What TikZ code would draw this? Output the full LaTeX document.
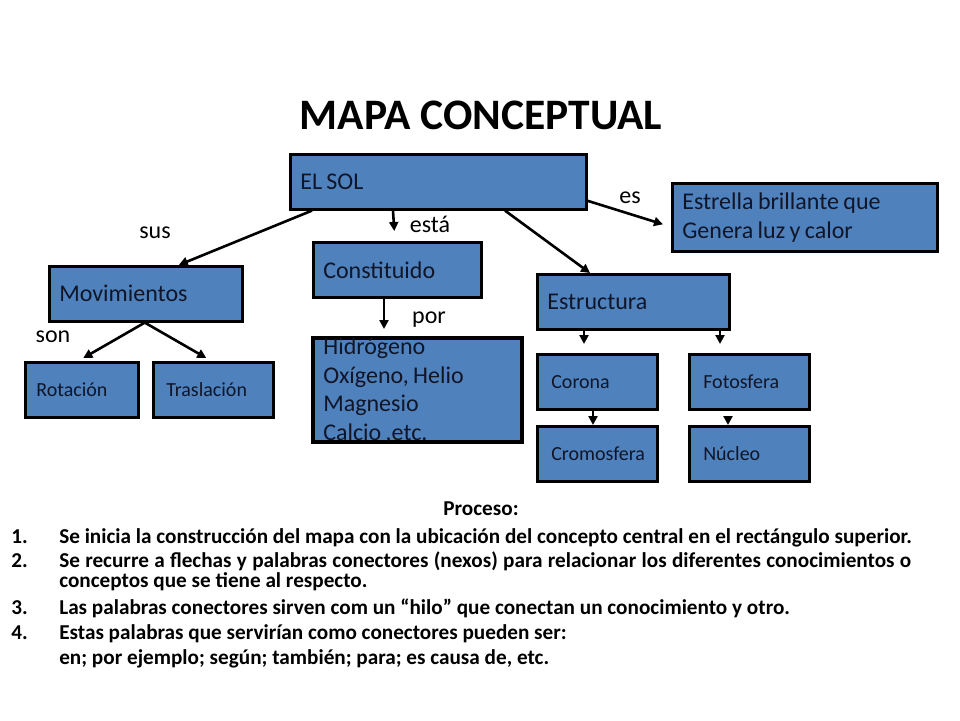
\documentclass[tikz,border=0pt]{standalone}
\usepackage{fontspec}
\setmainfont{Carlito}
\newfontfamily\mapafont{Carlito}[WordSpace=0.8]
\usetikzlibrary{calc}
\usetikzlibrary{arrows.meta}
\definecolor{solBlue}{RGB}{79,129,189}
\definecolor{solInk}{RGB}{16,22,40}
\tikzset{every picture/.style={line width=2.6pt, >={Triangle[length=9pt,width=9pt]}}}
\tikzset{concept/.style={draw=black, line width=2.6pt, fill=solBlue, anchor=north west, align=flush left, inner xsep=10pt, inner ysep=0pt, text=solInk, font=\mapafont\fontsize{24}{29}\selectfont}}
\tikzset{small concept/.style={concept, inner xsep=14pt, font=\mapafont\fontsize{20}{24}\selectfont}}
\tikzset{nexo/.style={font=\mapafont\fontsize{24}{28}\selectfont}}
\tikzset{paso/.style={anchor=base west, inner sep=0pt, font=\bfseries\fontsize{21.2}{22}\selectfont}}

\begin{document}
\begin{tikzpicture}[x=1pt,y=-1pt]
            \useasboundingbox (0,0) rectangle (960,720);
            \node[font=\bfseries\fontsize{43.5}{48}\selectfont] (titulo) at (481,115) {MAPA CONCEPTUAL};

            \node[concept, text width=276pt, minimum height=55pt] (sol) at (289,153) {EL SOL};
            \node[concept, text width=245pt, minimum height=68pt] (estrella) at (671,182) {Estrella brillante que\\Genera luz y calor};
            \node[concept, text width=148pt, minimum height=55pt] (constituido) at (312,241) {Constituido};
            \node[concept, text width=173pt, minimum height=55pt] (mov) at (48,265) {Movimientos};
            \node[concept, text width=172pt, minimum height=55pt] (estructura) at (536,273) {Estructura};
            \node[concept, minimum width=208pt, minimum height=103pt] (hidro) at (312,337) {};
            \node[anchor=west, align=left, inner sep=0pt, text=solInk, font=\mapafont\fontsize{24}{28.5}\selectfont] (elementos) at ([xshift=10pt,yshift=-1pt]hidro.west) {Hidrógeno\\Oxígeno, Helio\\Magnesio\\Calcio ,etc.};
            \draw (hidro.north west) rectangle (hidro.south east);

            \node[small concept, inner xsep=11pt, text width=91pt, minimum height=55pt] (rot) at (24,361) {Rotación};
            \node[small concept, inner xsep=13pt, text width=94pt, minimum height=55pt] (tras) at (152,361) {Traslación};
            \node[small concept, text width=92pt, minimum height=55pt] (corona) at (536,353) {Corona};
            \node[small concept, text width=92pt, minimum height=55pt] (foto) at (688,353) {Fotosfera};
            \node[small concept, text width=92pt, minimum height=55pt] (cromo) at (536,425) {Cromosfera};
            \node[small concept, text width=92pt, minimum height=55pt] (nucleo) at (688,425) {Núcleo};

            \draw[->] ([xshift=23pt]sol.south west) -- ([xshift=33pt]mov.north);
            \node[nexo] (sus) at (155,233) {sus};
            \draw[->] ([xshift=104pt]sol.south west) -- ([xshift=-3pt,yshift=10pt]constituido.north);
            \node[nexo] (esta) at (430,224) {está};
            \draw[->] ([xshift=216pt]sol.south west) -- ([xshift=54pt]estructura.north west);
            \draw[->] ([yshift=-19pt]sol.east) -- ([xshift=-8pt,yshift=-7pt]estrella.west);
            \node[nexo] (es) at (630,198) {es};
            \draw[->] ([xshift=72pt]constituido.south west) -- ([xshift=72pt,yshift=8pt]hidro.north west);
            \node[nexo] (por) at (429,320) {por};
            \draw[->] ([xshift=-1pt]mov.south) -- ([xshift=1.5pt,yshift=3pt]rot.north);
            \draw[->] ([xshift=-1pt]mov.south) -- ([xshift=-7pt,yshift=3pt]tras.north);
            \node[nexo] (son) at (53,337) {son};
            \draw[->] ([xshift=48pt]estructura.south west) -- ([xshift=48pt,yshift=9pt]corona.north west);
            \draw[->] ([xshift=184pt]estructura.south west) -- ([xshift=32pt,yshift=9pt]foto.north west);
            \draw[->] ([xshift=57pt]corona.south west) -- ([xshift=57pt]cromo.north west);
            \draw[->] ([xshift=40pt,yshift=-7pt]foto.south west) -- ([xshift=40pt]nucleo.north west);

            \node[paso, anchor=base] (proceso) at (481,515) {Proceso:};
            \node[paso] (n1) at (10,543) {1.};
            \node[paso] (t1) at (58,543) {Se inicia la construcción del mapa con la ubicación del concepto central en el rectángulo superior.};
            \node[paso] (n2) at (10,567) {2.};
            \node[paso] (t2) at (58,567) {\makebox[852pt][s]{Se recurre a flechas y palabras conectores (nexos) para relacionar los diferentes conocimientos o}};
            \node[paso] (t2b) at (58,587) {conceptos que se tiene al respecto.};
            \node[paso] (n3) at (10,614) {3.};
            \node[paso] (t3) at (58,614) {Las palabras conectores sirven com un “hilo” que conectan un conocimiento y otro.};
            \node[paso] (n4) at (10,639) {4.};
            \node[paso] (t4) at (58,639) {Estas palabras que servirían como conectores pueden ser:};
            \node[paso] (t4b) at (58,664) {en; por ejemplo; según; también; para; es causa de, etc.};
        \end{tikzpicture}
\end{document}
